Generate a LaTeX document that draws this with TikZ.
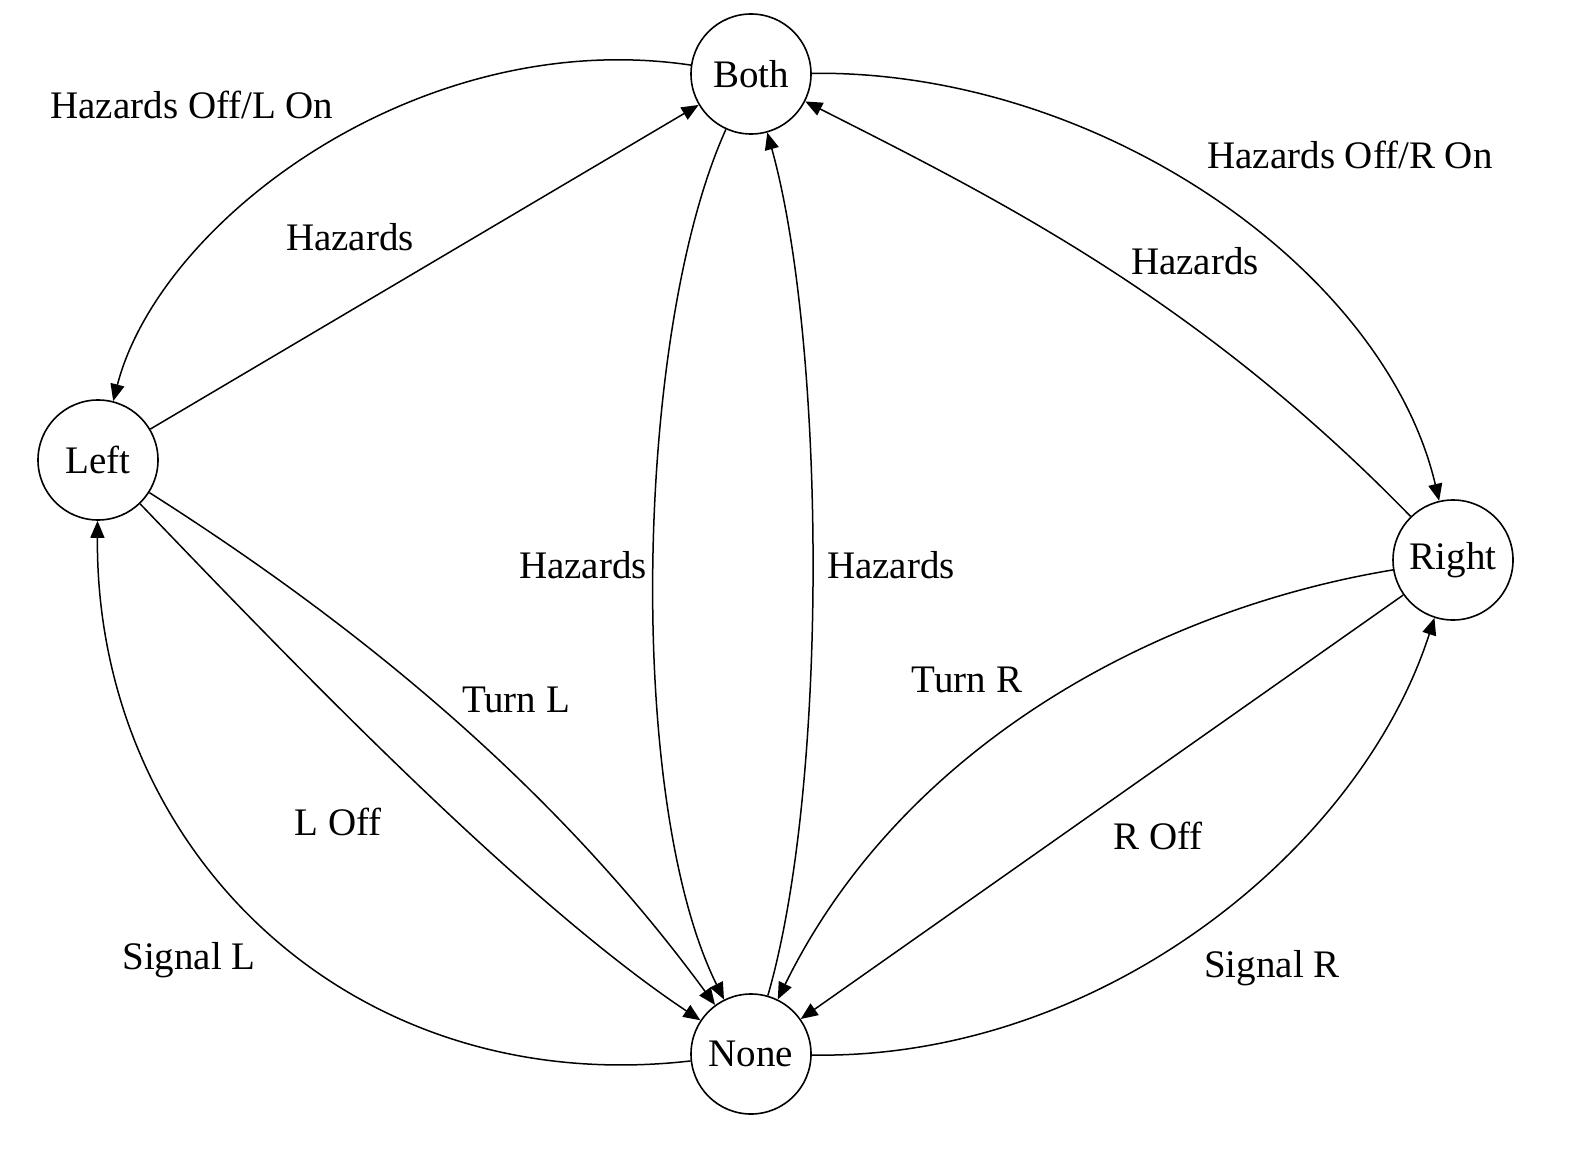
\documentclass[tikz,border=0pt]{standalone}
\usepackage{fontspec}
\setmainfont{Liberation Serif}
\usetikzlibrary{arrows.meta}
\begin{document}
\begin{tikzpicture}[x=1pt,y=-1pt,
  state/.style={circle,draw,line width=1.6pt,minimum size=120pt,inner sep=0pt,font=\fontsize{39}{46}\selectfont},
  edge/.style={line width=1.5pt,-{Triangle[length=17pt,width=14pt]}},
  lbl/.style={font=\fontsize{39}{46}\selectfont,inner sep=0pt}]
\useasboundingbox (0,0) rectangle (1570,1158);
\fill[white] (0,0) rectangle (1570,1158);
\node[state] (both) at (751,74) {Both};
\node[state] (left) at (98,460) {Left};
\node[state] (right) at (1453,560) {Right};
\node[state] (none) at (751,1054) {None};

\draw[edge] (both) .. controls (420,25) and (160,220) .. (left);
\draw[edge] (left) -- (both);
\draw[edge] (both) .. controls (1100,70) and (1385,270) .. (right);
\draw[edge] (right) .. controls (1200,300) and (1000,200) .. (both);
\draw[edge] (both) .. controls (635,330) and (625,800) .. (none);
\draw[edge] (none) .. controls (830,780) and (825,340) .. (both);
\draw[edge] (left) .. controls (290,660) and (520,900) .. (none);
\draw[edge] (left) .. controls (350,620) and (550,780) .. (none);
\draw[edge] (right) .. controls (1150,610) and (900,750) .. (none);
\draw[edge] (right) -- (none);
\draw[edge] (none) .. controls (350,1100) and (95,850) .. (left);
\draw[edge] (none) .. controls (1100,1060) and (1360,850) .. (right);

\node[lbl] (l1) at (192,105) {Hazards Off/L On};
\node[lbl] (l2) at (350,237) {Hazards};
\node[lbl] (l3) at (1350,155) {Hazards Off/R On};
\node[lbl] (l4) at (1195,261) {Hazards};
\node[lbl] (l5) at (583,565) {Hazards};
\node[lbl] (l6) at (891,565) {Hazards};
\node[lbl] (l7) at (516,700) {Turn L};
\node[lbl] (l8) at (338,822) {L Off};
\node[lbl] (l9) at (189,960) {Signal L};
\node[lbl] (l10) at (967,680) {Turn R};
\node[lbl] (l11) at (1158,836) {R Off};
\node[lbl] (l12) at (1272,968) {Signal R};
\end{tikzpicture}
\end{document}
